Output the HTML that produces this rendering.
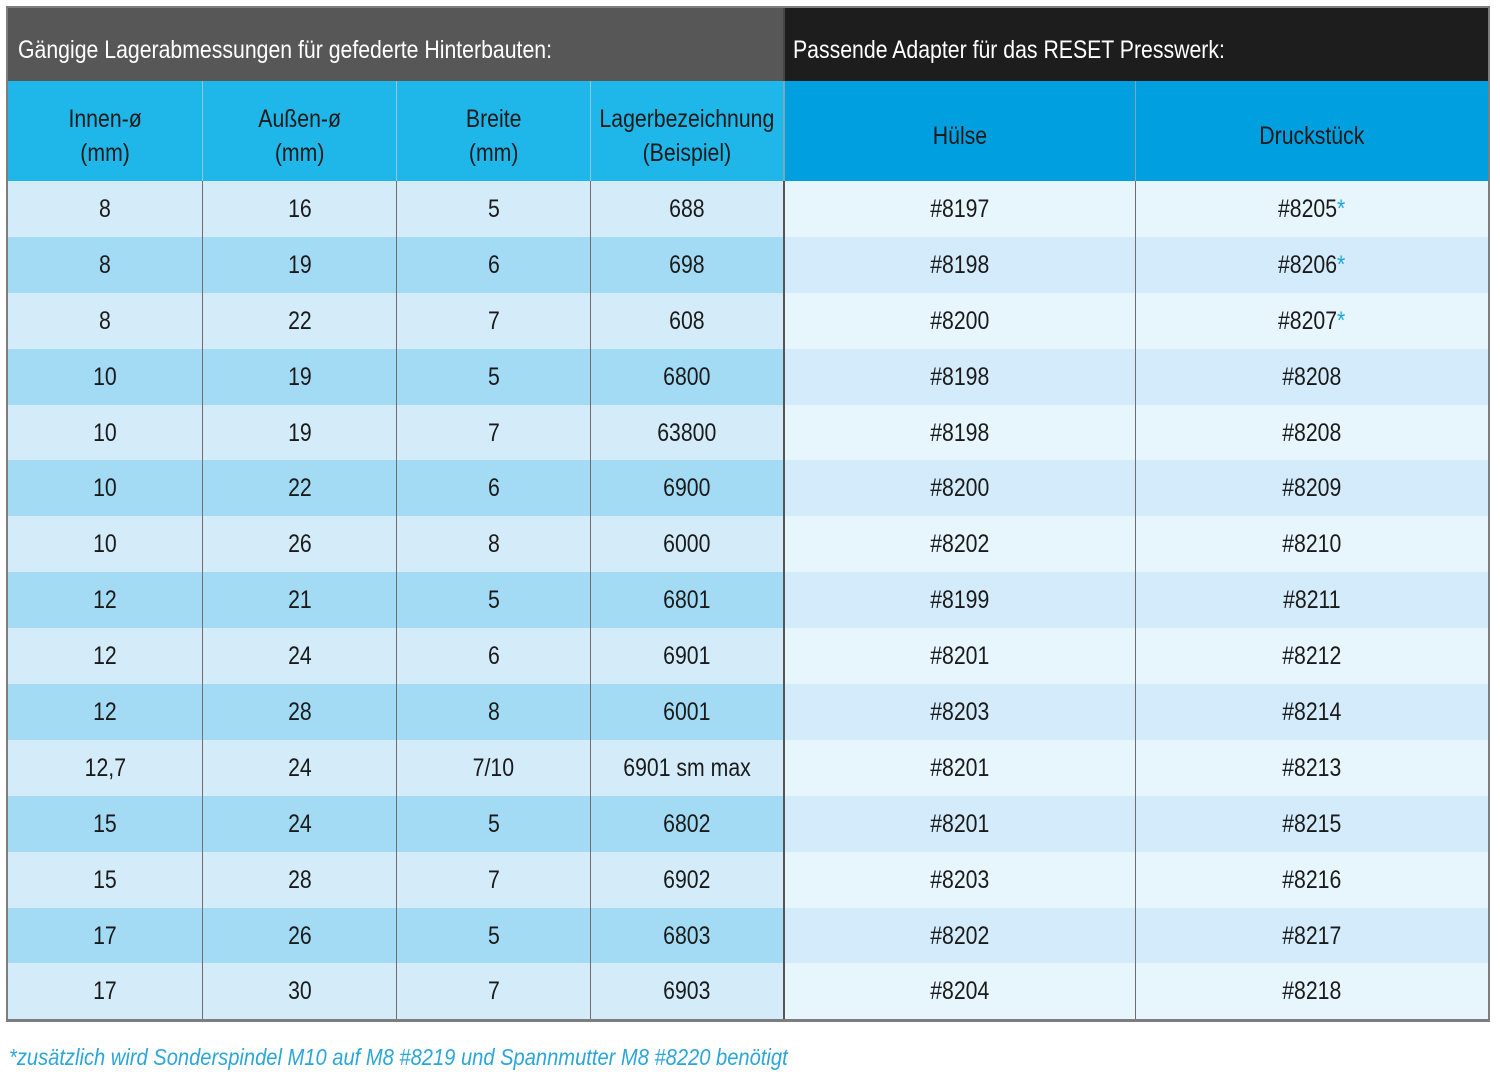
<!DOCTYPE html>
<html><head><meta charset="utf-8"><style>
*{margin:0;padding:0;box-sizing:border-box}
body{width:1500px;height:1078px;background:#fff;position:relative;overflow:hidden;font-family:"Liberation Sans",sans-serif;color:#1a1a1a}
#t{position:absolute;left:6px;top:6px;width:1484px;height:1016px;border:2px solid #7d7d7d;background:#7d7d7d}
.r{display:flex;width:1480px}
.c{display:flex;align-items:center;justify-content:center;text-align:center;font-size:25px;line-height:34px}
.c>span,#f>span{display:inline-block;transform:scaleX(.85);white-space:nowrap}
.w1{width:194px}.w4{width:193px}.w5{width:352px}.w6{width:353px}
.bl{border-left:1.5px solid #6e6e6e}
.tl{background:#575757;color:#fff;height:73px;justify-content:flex-start;padding-left:10px;padding-top:10px}
.tr{background:#1d1d1d;color:#fff;height:73px;justify-content:flex-start;padding-left:8px;padding-top:10px;border-left:2px solid #444}
.tl>span,.tr>span{transform-origin:left center}
.h{height:100px}
.hl{background:#1fb7e9;padding-top:10px}
.hr{background:#009fe0;padding-top:10px}
.d{height:55.9px}
.o .l{background:#d4ecf9}.o .rr{background:#e7f5fd}
.e .l{background:#a3dbf5}.e .rr{background:#d3ebfa}
.dv{border-left:2px solid #555}
.s{color:#1ea8e0}
#f{position:absolute;left:9px;top:1044px;font-style:italic;color:#2ba6da;font-size:23px}
#f>span{transform:scaleX(.875);transform-origin:left center}
</style></head><body>
<div id="t">
<div class="r"><div class="c tl" style="width:775px"><span>Gängige Lagerabmessungen für gefederte Hinterbauten:</span></div><div class="c tr" style="width:705px"><span>Passende Adapter für das RESET Presswerk:</span></div></div>
<div class="r h">
<div class="c w1 h hl"><span>Innen-ø<br>(mm)</span></div>
<div class="c w1 h hl bl" style="border-color:#8cc8e0"><span>Außen-ø<br>(mm)</span></div>
<div class="c w1 h hl bl" style="border-color:#8cc8e0"><span>Breite<br>(mm)</span></div>
<div class="c w4 h hl bl" style="border-color:#8cc8e0"><span>Lagerbezeichnung<br>(Beispiel)</span></div>
<div class="c w5 h hr dv" style="border-color:#7ab"><span>Hülse</span></div>
<div class="c w6 h hr bl" style="border-color:#7ab"><span>Druckstück</span></div>
</div>
<div class="r d o"><div class="c w1 d l"><span>8</span></div><div class="c w1 d l bl"><span>16</span></div><div class="c w1 d l bl"><span>5</span></div><div class="c w4 d l bl"><span>688</span></div><div class="c w5 d rr dv"><span>#8197</span></div><div class="c w6 d rr bl"><span>#8205<b class="s" style="font-weight:normal">*</b></span></div></div>
<div class="r d e"><div class="c w1 d l"><span>8</span></div><div class="c w1 d l bl"><span>19</span></div><div class="c w1 d l bl"><span>6</span></div><div class="c w4 d l bl"><span>698</span></div><div class="c w5 d rr dv"><span>#8198</span></div><div class="c w6 d rr bl"><span>#8206<b class="s" style="font-weight:normal">*</b></span></div></div>
<div class="r d o"><div class="c w1 d l"><span>8</span></div><div class="c w1 d l bl"><span>22</span></div><div class="c w1 d l bl"><span>7</span></div><div class="c w4 d l bl"><span>608</span></div><div class="c w5 d rr dv"><span>#8200</span></div><div class="c w6 d rr bl"><span>#8207<b class="s" style="font-weight:normal">*</b></span></div></div>
<div class="r d e"><div class="c w1 d l"><span>10</span></div><div class="c w1 d l bl"><span>19</span></div><div class="c w1 d l bl"><span>5</span></div><div class="c w4 d l bl"><span>6800</span></div><div class="c w5 d rr dv"><span>#8198</span></div><div class="c w6 d rr bl"><span>#8208</span></div></div>
<div class="r d o"><div class="c w1 d l"><span>10</span></div><div class="c w1 d l bl"><span>19</span></div><div class="c w1 d l bl"><span>7</span></div><div class="c w4 d l bl"><span>63800</span></div><div class="c w5 d rr dv"><span>#8198</span></div><div class="c w6 d rr bl"><span>#8208</span></div></div>
<div class="r d e"><div class="c w1 d l"><span>10</span></div><div class="c w1 d l bl"><span>22</span></div><div class="c w1 d l bl"><span>6</span></div><div class="c w4 d l bl"><span>6900</span></div><div class="c w5 d rr dv"><span>#8200</span></div><div class="c w6 d rr bl"><span>#8209</span></div></div>
<div class="r d o"><div class="c w1 d l"><span>10</span></div><div class="c w1 d l bl"><span>26</span></div><div class="c w1 d l bl"><span>8</span></div><div class="c w4 d l bl"><span>6000</span></div><div class="c w5 d rr dv"><span>#8202</span></div><div class="c w6 d rr bl"><span>#8210</span></div></div>
<div class="r d e"><div class="c w1 d l"><span>12</span></div><div class="c w1 d l bl"><span>21</span></div><div class="c w1 d l bl"><span>5</span></div><div class="c w4 d l bl"><span>6801</span></div><div class="c w5 d rr dv"><span>#8199</span></div><div class="c w6 d rr bl"><span>#8211</span></div></div>
<div class="r d o"><div class="c w1 d l"><span>12</span></div><div class="c w1 d l bl"><span>24</span></div><div class="c w1 d l bl"><span>6</span></div><div class="c w4 d l bl"><span>6901</span></div><div class="c w5 d rr dv"><span>#8201</span></div><div class="c w6 d rr bl"><span>#8212</span></div></div>
<div class="r d e"><div class="c w1 d l"><span>12</span></div><div class="c w1 d l bl"><span>28</span></div><div class="c w1 d l bl"><span>8</span></div><div class="c w4 d l bl"><span>6001</span></div><div class="c w5 d rr dv"><span>#8203</span></div><div class="c w6 d rr bl"><span>#8214</span></div></div>
<div class="r d o"><div class="c w1 d l"><span>12,7</span></div><div class="c w1 d l bl"><span>24</span></div><div class="c w1 d l bl"><span>7/10</span></div><div class="c w4 d l bl"><span>6901 sm max</span></div><div class="c w5 d rr dv"><span>#8201</span></div><div class="c w6 d rr bl"><span>#8213</span></div></div>
<div class="r d e"><div class="c w1 d l"><span>15</span></div><div class="c w1 d l bl"><span>24</span></div><div class="c w1 d l bl"><span>5</span></div><div class="c w4 d l bl"><span>6802</span></div><div class="c w5 d rr dv"><span>#8201</span></div><div class="c w6 d rr bl"><span>#8215</span></div></div>
<div class="r d o"><div class="c w1 d l"><span>15</span></div><div class="c w1 d l bl"><span>28</span></div><div class="c w1 d l bl"><span>7</span></div><div class="c w4 d l bl"><span>6902</span></div><div class="c w5 d rr dv"><span>#8203</span></div><div class="c w6 d rr bl"><span>#8216</span></div></div>
<div class="r d e"><div class="c w1 d l"><span>17</span></div><div class="c w1 d l bl"><span>26</span></div><div class="c w1 d l bl"><span>5</span></div><div class="c w4 d l bl"><span>6803</span></div><div class="c w5 d rr dv"><span>#8202</span></div><div class="c w6 d rr bl"><span>#8217</span></div></div>
<div class="r d o"><div class="c w1 d l"><span>17</span></div><div class="c w1 d l bl"><span>30</span></div><div class="c w1 d l bl"><span>7</span></div><div class="c w4 d l bl"><span>6903</span></div><div class="c w5 d rr dv"><span>#8204</span></div><div class="c w6 d rr bl"><span>#8218</span></div></div>
</div>
<div id="f"><span>*zusätzlich wird Sonderspindel M10 auf M8 #8219 und Spannmutter M8 #8220 benötigt</span></div>
</body></html>
